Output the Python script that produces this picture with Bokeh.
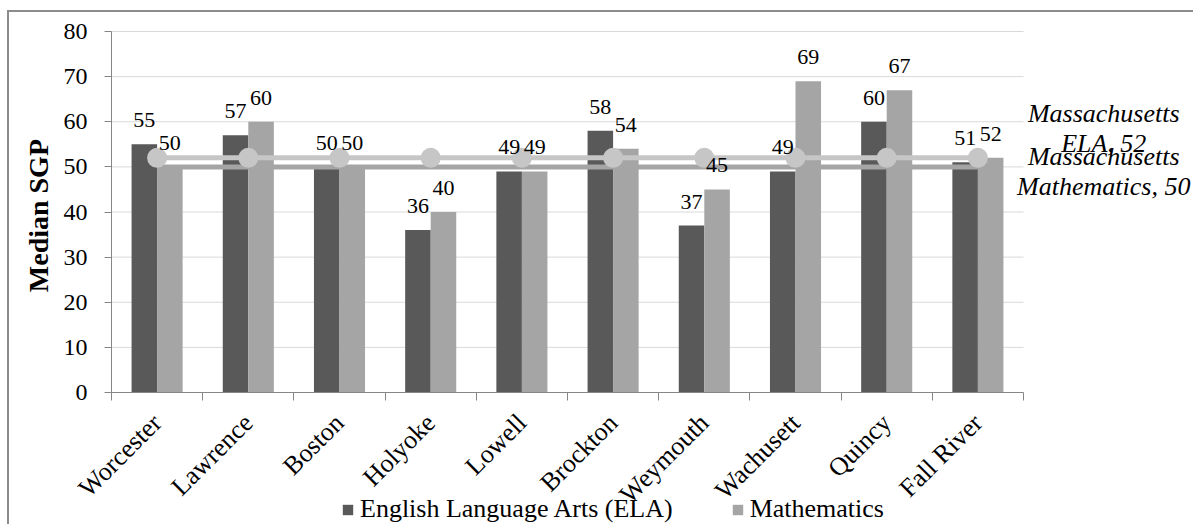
from math import pi
from bokeh.plotting import figure
from bokeh.models import Range1d, FixedTicker, Label, Legend, LegendItem
from bokeh.core.properties import value
from bokeh.embed import file_html
from bokeh.resources import INLINE

# ---- data ----
districts = ["Worcester", "Lawrence", "Boston", "Holyoke", "Lowell",
             "Brockton", "Weymouth", "Wachusett", "Quincy", "Fall River"]
ela = [55, 57, 50, 36, 49, 58, 37, 49, 60, 51]
math = [50, 60, 50, 40, 49, 54, 45, 69, 67, 52]
state_ela = 52
state_math = 50
y_ticks = [0, 10, 20, 30, 40, 50, 60, 70, 80]
y_title = "Median SGP"
series_names = ["English Language Arts (ELA)", "Mathematics"]
state_labels = [["Massachusetts", "ELA, 52"], ["Massachusetts", "Mathematics, 50"]]

FONT = "Liberation Serif"
C_ELA = "#595959"
C_MATH = "#a5a5a5"
C_STATE_ELA = "#c6c6c6"
C_STATE_MATH = "#a5a5a5"
AXIS_C = "#868686"
GRID_C = "#d9d9d9"

n = len(districts)
centers = [i + 0.5 for i in range(n)]
bar_w = 0.28
x_ela = [c - bar_w / 2 for c in centers]
x_math = [c + bar_w / 2 for c in centers]
y_top = y_ticks[-1]

# the plot area covers the whole canvas; axes are pinned at x=0 / y=0
W, H = 1186, 514
px_x = 912 / n          # pixels per category
px_y = 361 / y_top      # pixels per unit
p = figure(width=W, height=H,
           x_range=Range1d(-102 / px_x, (W - 102) / px_x),
           y_range=Range1d(-(H - 19 - 361) / px_y, y_top + 19 / px_y),
           output_backend="svg", toolbar_location=None,
           min_border_left=0, min_border_right=0, min_border_top=0, min_border_bottom=0)
p.styles = {"margin-left": "7px", "margin-top": "10px",
            "border-top": "2px solid #8c8c8c", "border-left": "2px solid #8c8c8c"}
p.outline_line_color = None
p.background_fill_color = "white"
p.border_fill_color = "white"
p.xgrid.visible = False
p.ygrid.visible = False

# y axis
p.yaxis.fixed_location = 0
p.yaxis.ticker = FixedTicker(ticks=y_ticks)
p.yaxis.bounds = (0, y_top)
p.yaxis.axis_line_color = AXIS_C
p.yaxis.major_tick_line_color = AXIS_C
p.yaxis.major_tick_out = 7
p.yaxis.major_tick_in = 0
p.yaxis.minor_tick_line_color = None
p.yaxis.major_label_text_font = FONT
p.yaxis.major_label_text_font_size = "24px"
p.yaxis.major_label_text_color = "black"
p.yaxis.major_label_standoff = 17

# x axis at y = 0
p.xaxis.fixed_location = 0
p.xaxis.bounds = (0, n)
p.xaxis.ticker = FixedTicker(ticks=centers, minor_ticks=list(range(n + 1)))
p.xaxis.major_label_overrides = {c: d for c, d in zip(centers, districts)}
p.xaxis.axis_line_color = AXIS_C
p.xaxis.major_tick_line_color = None
p.xaxis.major_tick_out = 8
p.xaxis.major_tick_in = 0
p.xaxis.minor_tick_line_color = AXIS_C
p.xaxis.minor_tick_out = 8
p.xaxis.minor_tick_in = 0
p.xaxis.major_label_orientation = pi / 4
p.xaxis.major_label_text_font = FONT
p.xaxis.major_label_text_font_size = "26px"
p.xaxis.major_label_text_color = "black"
p.xaxis.major_label_standoff = 18

# y axis title
p.add_layout(Label(x=-0.80, y=39.2, text=y_title, angle=pi / 2, text_align="center",
                   text_baseline="middle", text_font=FONT, text_font_style="bold",
                   text_font_size="28px", text_color="black"))

# horizontal gridlines across the category area only
p.segment(x0=[0] * len(y_ticks), x1=[n] * len(y_ticks), y0=y_ticks, y1=y_ticks,
          line_color=GRID_C, line_width=1)

# bars
r_ela = p.vbar(x=x_ela, top=ela, width=bar_w, bottom=0, fill_color=C_ELA, line_color=None)
r_math = p.vbar(x=x_math, top=math, width=bar_w, bottom=0, fill_color=C_MATH, line_color=None)

# state lines
p.line(centers, [state_math] * n, line_color=C_STATE_MATH, line_width=5)
p.line(centers, [state_ela] * n, line_color=C_STATE_ELA, line_width=5)
p.scatter(centers, [state_ela] * n, size=20, fill_color=C_STATE_ELA, line_color=None)

# value labels
for xs, vals in ((x_ela, ela), (x_math, math)):
    p.text(x=xs, y=vals, text=[str(v) for v in vals], text_align="center",
           text_baseline="alphabetic", y_offset=-24, text_font=value(FONT),
           text_font_size="22px", text_color="black")

# state labels at the right
lab_x = n + 0.88
for (l1, l2), yv, offs in ((state_labels[0], state_ela, (9.8, 3.1)),
                           (state_labels[1], state_math, (2.3, -4.4))):
    for txt, o in zip((l1, l2), offs):
        p.add_layout(Label(x=lab_x, y=yv + o, text=txt, text_align="center",
                           text_baseline="alphabetic", text_font=FONT,
                           text_font_style="italic", text_font_size="26px",
                           text_color="black"))

# legend
legend = Legend(items=[LegendItem(label=series_names[0], renderers=[r_ela]),
                       LegendItem(label=series_names[1], renderers=[r_math])],
                orientation="horizontal", location=(332, 2),
                glyph_width=13, glyph_height=13, label_standoff=6, spacing=58,
                padding=0, margin=0, border_line_color=None, background_fill_alpha=0,
                label_text_font=FONT, label_text_font_size="26px", label_text_color="black",
                label_height=26)
p.add_layout(legend, "center")

open("out.html", "w").write(file_html(p, INLINE))
